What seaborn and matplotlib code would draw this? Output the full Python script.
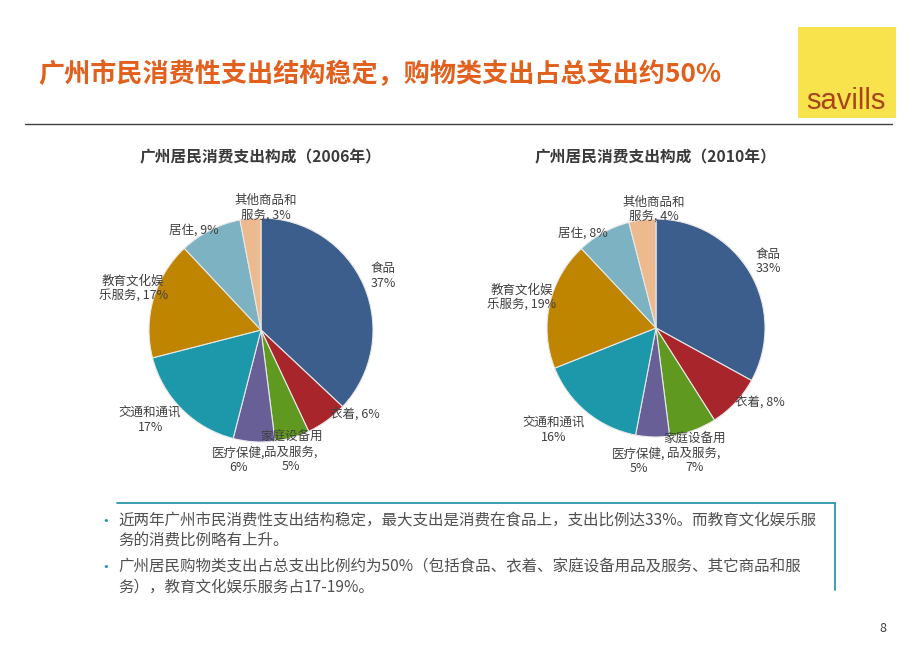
"""广州居民消费支出构成 - 饼图复刻."""

import matplotlib.pyplot as plt
import seaborn as sns
from matplotlib.patches import Rectangle
from matplotlib.lines import Line2D

# ---- data ----
categories = ["食品", "衣着", "家庭设备用品及服务", "医疗保健",
              "交通和通讯", "教育文化娱乐服务", "居住", "其他商品和服务"]
share_2006 = [37, 6, 5, 6, 17, 17, 9, 3]
share_2010 = [33, 8, 7, 5, 16, 19, 8, 4]

labels_2006 = ["食品\n37%", "衣着, 6%", "家庭设备用\n品及服务,\n5%", "医疗保健,\n6%",
               "交通和通讯\n17%", "教育文化娱\n乐服务, 17%", "居住, 9%", "其他商品和\n服务, 3%"]
labels_2010 = ["食品\n33%", "衣着, 8%", "家庭设备用\n品及服务,\n7%", "医疗保健,\n5%",
               "交通和通讯\n16%", "教育文化娱\n乐服务, 19%", "居住, 8%", "其他商品和\n服务, 4%"]

slice_colors = ["#3B5E8C", "#A8262B", "#5F991F", "#685F97",
                "#1D98AB", "#BF8400", "#7DB2C2", "#EDB98E"]

title_text = "广州市民消费性支出结构稳定，购物类支出占总支出约50%"
bullets = [
    "近两年广州市民消费性支出结构稳定，最大支出是消费在食品上，支出比例达33%。而教育文化娱乐服\n务的消费比例略有上升。",
    "广州居民购物类支出占总支出比例约为50%（包括食品、衣着、家庭设备用品及服务、其它商品和服\n务），教育文化娱乐服务占17-19%。",
]

# label offsets, in units of pie radius
label_pos_2006 = [(1.09, 0.48), (0.84, -0.76), (0.27, -1.09), (-0.20, -1.16),
                  (-0.99, -0.81), (-1.14, 0.37), (-0.60, 0.89), (0.04, 1.09)]
label_pos_2010 = [(1.03, 0.61), (0.95, -0.69), (0.35, -1.15), (-0.16, -1.22),
                  (-0.94, -0.94), (-1.23, 0.28), (-0.67, 0.87), (-0.02, 1.09)]

W, H = 920, 651

sns.set_theme(style="white")
plt.rcParams["font.family"] = ["Noto Sans CJK SC", "DejaVu Sans"]

fig = plt.figure(figsize=(W / 100, H / 100), dpi=100)
fig.patch.set_facecolor("white")


def px(x, y):
    return x / W, 1 - y / H


def draw_pie(cx, cy, radius, values, labels, positions, title):
    half = 200
    lim = half / radius
    ax = fig.add_axes([(cx - half) / W, 1 - (cy + half) / H, 2 * half / W, 2 * half / H])
    ax.set_facecolor("none")
    ax.pie(values, colors=slice_colors, startangle=90, counterclock=False,
           wedgeprops={"edgecolor": "#E8E8E8", "linewidth": 0.8})
    ax.set_xlim(-lim, lim)
    ax.set_ylim(-lim, lim)
    ax.set_aspect("equal")
    ax.axis("off")
    for text, (lx, ly) in zip(labels, positions):
        ax.text(lx, ly, text, ha="center", va="center", fontsize=9,
                color="#404040", linespacing=1.15)
    fig.text(*px(cx, 157), title, ha="center", va="center", fontsize=11.3,
             fontweight="bold", color="#3A3A3A")


draw_pie(261, 330, 112, share_2006, labels_2006, label_pos_2006, "广州居民消费支出构成（2006年）")
draw_pie(656, 328, 109, share_2010, labels_2010, label_pos_2010, "广州居民消费支出构成（2010年）")

# title
fig.text(*px(38, 75), title_text, ha="left", va="center", fontsize=18.8,
         fontweight="semibold", color="#E2601E")

# savills logo
fig.add_artist(Rectangle(px(798, 118), 98 / W, 91 / H, transform=fig.transFigure,
                         facecolor="#F8E34C", edgecolor="none"))
fig.text(*px(846, 101), "savills", ha="center", va="center", fontsize=21,
         color="#A8431C", family=["Liberation Sans Narrow", "Liberation Sans", "DejaVu Sans"])

# header rule
fig.add_artist(Line2D([25 / W, 892 / W], [1 - 124 / H] * 2, transform=fig.transFigure,
                      color="#404040", linewidth=1))

# text box lines
fig.add_artist(Line2D([117 / W, 835 / W], [1 - 503 / H] * 2, transform=fig.transFigure,
                      color="#2A96A8", linewidth=1.3))
fig.add_artist(Line2D([835 / W, 835 / W], [1 - 503 / H, 1 - 590 / H], transform=fig.transFigure,
                      color="#2A96A8", linewidth=1.3))

for text, y in zip(bullets, [522, 568]):
    fig.text(*px(106, y), "•", ha="center", va="center", fontsize=12, color="#2A96A8")
    fig.text(*px(118, y - 10), text, ha="left", va="top", fontsize=11.2,
             color="#505050", linespacing=1.25)

fig.text(*px(883, 628), "8", ha="center", va="center", fontsize=9, color="#404040")

fig.savefig("out.png", dpi=100)
plt.close(fig)
